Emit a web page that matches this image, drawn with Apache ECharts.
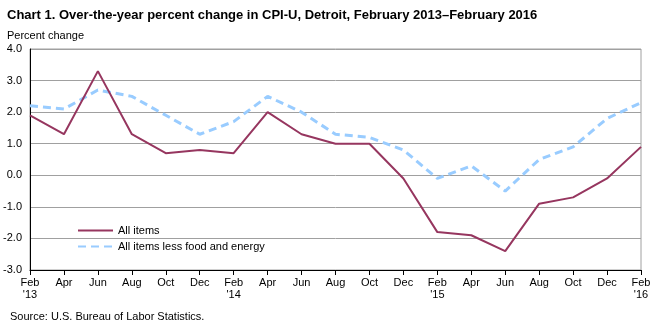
<!DOCTYPE html>
<html><head><meta charset="utf-8">
<script src="https://cdn.jsdelivr.net/npm/echarts@6/dist/echarts.min.js"></script>
<style>html,body{margin:0;padding:0;background:#fff}#c{width:659px;height:326px}</style>
</head><body><div id="c"></div>
<script>
const categories = ["Feb\n'13","Apr","Jun","Aug","Oct","Dec","Feb\n'14","Apr","Jun","Aug","Oct","Dec","Feb\n'15","Apr","Jun","Aug","Oct","Dec","Feb\n'16"];
const allItems = [1.9,1.3,3.3,1.3,0.7,0.8,0.7,2.0,1.3,1.0,1.0,-0.1,-1.8,-1.9,-2.4,-0.9,-0.7,-0.1,0.9];
const lessFoodEnergy = [2.2,2.1,2.7,2.5,1.9,1.3,1.7,2.5,2.0,1.3,1.2,0.8,-0.1,0.3,-0.5,0.5,0.9,1.8,2.3];
const font = 'Liberation Sans, Arial, sans-serif';
const chart = echarts.init(document.getElementById('c'), null, {renderer:'canvas'});
chart.setOption({
  animation:false,
  textStyle:{fontFamily:font},
  title:[
    {text:'Chart 1. Over-the-year percent change in CPI-U, Detroit, February 2013\u2013February 2016',left:7,top:9,padding:0,textStyle:{fontSize:13,fontWeight:'bold',color:'#000',fontFamily:font}},
    {text:'Percent change',left:7,top:30,padding:0,textStyle:{fontSize:11,fontWeight:'normal',color:'#000',fontFamily:font}},
    {text:'Source: U.S. Bureau of Labor Statistics.',left:10,top:311,padding:0,textStyle:{fontSize:11,fontWeight:'normal',color:'#000',fontFamily:font}}
  ],
  grid:{left:30,right:18,top:49,bottom:56,show:true,borderColor:'#a0a0a0',borderWidth:1,backgroundColor:'transparent'},
  legend:{orient:'vertical',left:72,top:220,itemWidth:35,itemHeight:10,itemGap:5,
    itemStyle:{opacity:0},
    textStyle:{fontSize:11,color:'#000',fontFamily:font},
    data:['All items','All items less food and energy']},
  xAxis:{type:'category',data:categories,boundaryGap:false,
    axisLine:{onZero:false,lineStyle:{color:'#000',width:1}},
    axisTick:{show:true,inside:false,length:5,lineStyle:{color:'#000'},alignWithLabel:true},
    axisLabel:{fontSize:11,color:'#000',margin:7,lineHeight:12,fontFamily:font,interval:0},
    splitLine:{show:false}},
  yAxis:{type:'value',min:-3,max:4,interval:1,
    axisLine:{show:true,onZero:false,lineStyle:{color:'#000',width:1}},
    axisTick:{show:false},
    axisLabel:{fontSize:11,color:'#000',margin:8,fontFamily:font,formatter:v=>v.toFixed(1)},
    splitLine:{show:true,lineStyle:{color:'#a0a0a0',width:1}}},
  series:[
    {name:'All items',type:'line',data:allItems,symbol:'none',z:3,
      lineStyle:{color:'#96365f',width:2},itemStyle:{color:'#96365f'}},
    {name:'All items less food and energy',type:'line',data:lessFoodEnergy,symbol:'none',z:2,
      lineStyle:{color:'#99ccff',width:3,type:[8,5]},itemStyle:{color:'#99ccff'}}
  ]
});
</script></body></html>
